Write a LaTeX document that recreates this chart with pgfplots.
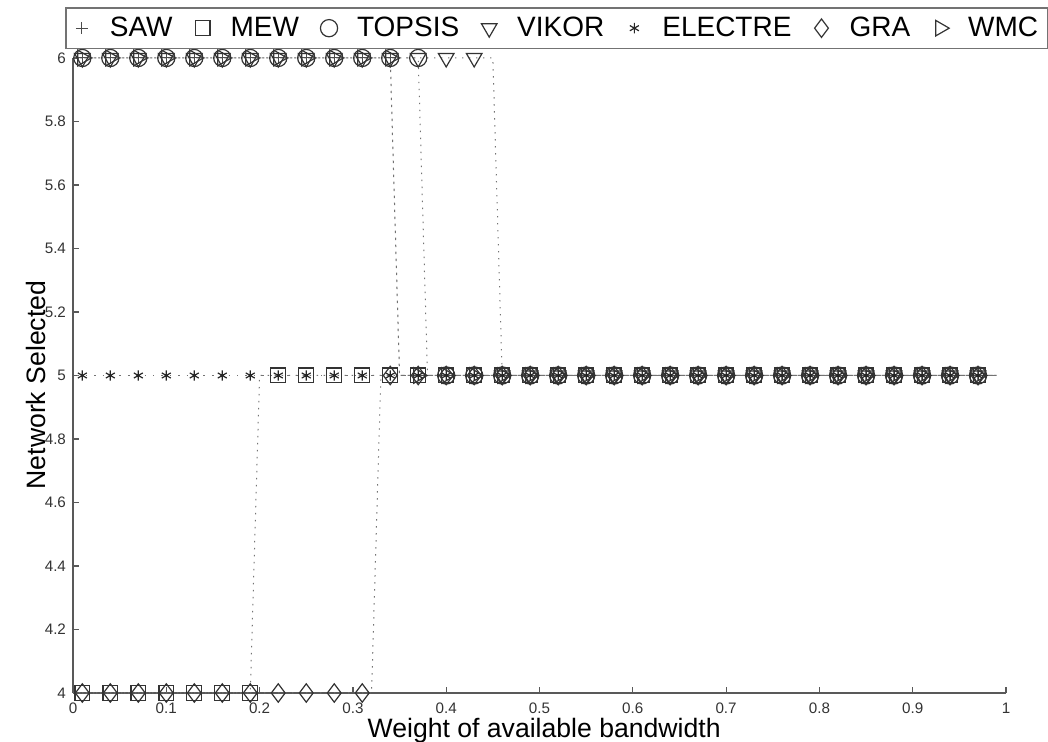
\documentclass[border=0pt]{standalone}
\usepackage{fontspec}
\setmainfont{Liberation Sans}
\usepackage{pgfplots}
\pgfplotsset{compat=1.18}
\usepackage{pgfplotstable}

\pgfplotstableread{
x saw mew topsis vikor electre gra wmc
0.00 6 4 6 6 5 4 6
0.01 6 4 6 6 5 4 6
0.02 6 4 6 6 5 4 6
0.03 6 4 6 6 5 4 6
0.04 6 4 6 6 5 4 6
0.05 6 4 6 6 5 4 6
0.06 6 4 6 6 5 4 6
0.07 6 4 6 6 5 4 6
0.08 6 4 6 6 5 4 6
0.09 6 4 6 6 5 4 6
0.10 6 4 6 6 5 4 6
0.11 6 4 6 6 5 4 6
0.12 6 4 6 6 5 4 6
0.13 6 4 6 6 5 4 6
0.14 6 4 6 6 5 4 6
0.15 6 4 6 6 5 4 6
0.16 6 4 6 6 5 4 6
0.17 6 4 6 6 5 4 6
0.18 6 4 6 6 5 4 6
0.19 6 4 6 6 5 4 6
0.20 6 5 6 6 5 4 6
0.21 6 5 6 6 5 4 6
0.22 6 5 6 6 5 4 6
0.23 6 5 6 6 5 4 6
0.24 6 5 6 6 5 4 6
0.25 6 5 6 6 5 4 6
0.26 6 5 6 6 5 4 6
0.27 6 5 6 6 5 4 6
0.28 6 5 6 6 5 4 6
0.29 6 5 6 6 5 4 6
0.30 6 5 6 6 5 4 6
0.31 6 5 6 6 5 4 6
0.32 6 5 6 6 5 4 6
0.33 6 5 6 6 5 5 6
0.34 6 5 6 6 5 5 6
0.35 5 5 6 6 5 5 5
0.36 5 5 6 6 5 5 5
0.37 5 5 6 6 5 5 5
0.38 5 5 5 6 5 5 5
0.39 5 5 5 6 5 5 5
0.40 5 5 5 6 5 5 5
0.41 5 5 5 6 5 5 5
0.42 5 5 5 6 5 5 5
0.43 5 5 5 6 5 5 5
0.44 5 5 5 6 5 5 5
0.45 5 5 5 6 5 5 5
0.46 5 5 5 5 5 5 5
0.47 5 5 5 5 5 5 5
0.48 5 5 5 5 5 5 5
0.49 5 5 5 5 5 5 5
0.50 5 5 5 5 5 5 5
0.51 5 5 5 5 5 5 5
0.52 5 5 5 5 5 5 5
0.53 5 5 5 5 5 5 5
0.54 5 5 5 5 5 5 5
0.55 5 5 5 5 5 5 5
0.56 5 5 5 5 5 5 5
0.57 5 5 5 5 5 5 5
0.58 5 5 5 5 5 5 5
0.59 5 5 5 5 5 5 5
0.60 5 5 5 5 5 5 5
0.61 5 5 5 5 5 5 5
0.62 5 5 5 5 5 5 5
0.63 5 5 5 5 5 5 5
0.64 5 5 5 5 5 5 5
0.65 5 5 5 5 5 5 5
0.66 5 5 5 5 5 5 5
0.67 5 5 5 5 5 5 5
0.68 5 5 5 5 5 5 5
0.69 5 5 5 5 5 5 5
0.70 5 5 5 5 5 5 5
0.71 5 5 5 5 5 5 5
0.72 5 5 5 5 5 5 5
0.73 5 5 5 5 5 5 5
0.74 5 5 5 5 5 5 5
0.75 5 5 5 5 5 5 5
0.76 5 5 5 5 5 5 5
0.77 5 5 5 5 5 5 5
0.78 5 5 5 5 5 5 5
0.79 5 5 5 5 5 5 5
0.80 5 5 5 5 5 5 5
0.81 5 5 5 5 5 5 5
0.82 5 5 5 5 5 5 5
0.83 5 5 5 5 5 5 5
0.84 5 5 5 5 5 5 5
0.85 5 5 5 5 5 5 5
0.86 5 5 5 5 5 5 5
0.87 5 5 5 5 5 5 5
0.88 5 5 5 5 5 5 5
0.89 5 5 5 5 5 5 5
0.90 5 5 5 5 5 5 5
0.91 5 5 5 5 5 5 5
0.92 5 5 5 5 5 5 5
0.93 5 5 5 5 5 5 5
0.94 5 5 5 5 5 5 5
0.95 5 5 5 5 5 5 5
0.96 5 5 5 5 5 5 5
0.97 5 5 5 5 5 5 5
0.98 5 5 5 5 5 5 5
0.99 5 5 5 5 5 5 5
}\data

\begin{document}
\begin{tikzpicture}
\path[use as bounding box] (0,0) rectangle (524pt,371pt);
\begin{axis}[
  at={(36.5pt,24.5pt)}, anchor=south west,
  scale only axis, width=466.5pt, height=317.5pt,
  xmin=0, xmax=1, ymin=4, ymax=6,
  axis x line*=bottom, axis y line*=left,
  axis line style={-, black!65, line width=0.8pt},
  clip=false,
  xtick={0,0.1,0.2,0.3,0.4,0.5,0.6,0.7,0.8,0.9,1},
  ytick={4,4.2,4.4,4.6,4.8,5,5.2,5.4,5.6,5.8,6},
  tick align=inside, major tick length=3pt,
  tick style={black!65, line width=0.6pt},
  /pgf/number format/assume math mode=true,
  tick label style={font=\fontsize{7.6}{8}\selectfont, black!80},
  xticklabel style={yshift=-1.5pt},
  xlabel={Weight of available bandwidth},
  ylabel={Network Selected},
  label style={font=\fontsize{13.3}{15}\selectfont},
  xlabel style={at={(axis description cs:0.505,0)}, anchor=base, yshift=-22.5pt},
  ylabel style={at={(axis description cs:-0.0397,0.485)}, anchor=center},
  every axis plot/.append style={mark repeat=3, mark phase=2, line width=0.5pt, black!55},
  legend columns=7,
  legend image code/.code={\draw[#1, mark repeat=1, mark phase=1] plot[only marks] coordinates {(0pt,0pt)}; \path[draw=none, fill=none] (-5pt,-5pt) rectangle (5pt,5pt);},
  legend style={at={(axis description cs:-0.0086,1.0803)}, anchor=north west,
    draw=black!55, line width=0.9pt, font=\fontsize{14}{16}\selectfont,
    inner ysep=2.5pt, inner xsep=3pt,
    /tikz/every odd column/.append style={column sep=7pt},
    /tikz/every even column/.append style={column sep=8pt}},
]
\addplot[dash pattern=on 0.7pt off 2.8pt, dash phase=0pt, mark=+, mark size=3pt, mark options={solid, black!70, line width=0.5pt}] table[x=x, y=saw] {\data};
\addlegendentry{SAW}
\addplot[dash pattern=on 0.7pt off 2.8pt, dash phase=0.5pt, mark=square, mark size=3.7pt, mark options={solid, black!80, line width=0.6pt}] table[x=x, y=mew] {\data};
\addlegendentry{MEW}
\addplot[dash pattern=on 0.7pt off 2.8pt, dash phase=1pt, mark=o, mark size=4.3pt, mark options={solid, black!80, line width=0.6pt}] table[x=x, y=topsis] {\data};
\addlegendentry{TOPSIS}
\addplot[dash pattern=on 0.7pt off 2.8pt, dash phase=1.5pt, mark=triangle, mark size=4.5pt, mark options={solid, rotate=180, black!80, line width=0.6pt}] table[x=x, y=vikor] {\data};
\addlegendentry{VIKOR}
\addplot[dash pattern=on 0.7pt off 3.5pt, dash phase=2pt, mark=asterisk, mark size=2.6pt, mark options={solid, black!85, line width=0.6pt}] table[x=x, y=electre] {\data};
\addlegendentry{ELECTRE}
\addplot[dash pattern=on 0.7pt off 2.8pt, dash phase=2.5pt, mark=diamond, mark size=4.6pt, mark options={solid, black!80, line width=0.6pt}] table[x=x, y=gra] {\data};
\addlegendentry{GRA}
\addplot[dash pattern=on 0.7pt off 2.8pt, dash phase=3pt, mark=triangle, mark size=4.5pt, mark options={solid, rotate=-90, black!80, line width=0.6pt}] table[x=x, y=wmc] {\data};
\addlegendentry{WMC}
\end{axis}
\end{tikzpicture}
\end{document}
